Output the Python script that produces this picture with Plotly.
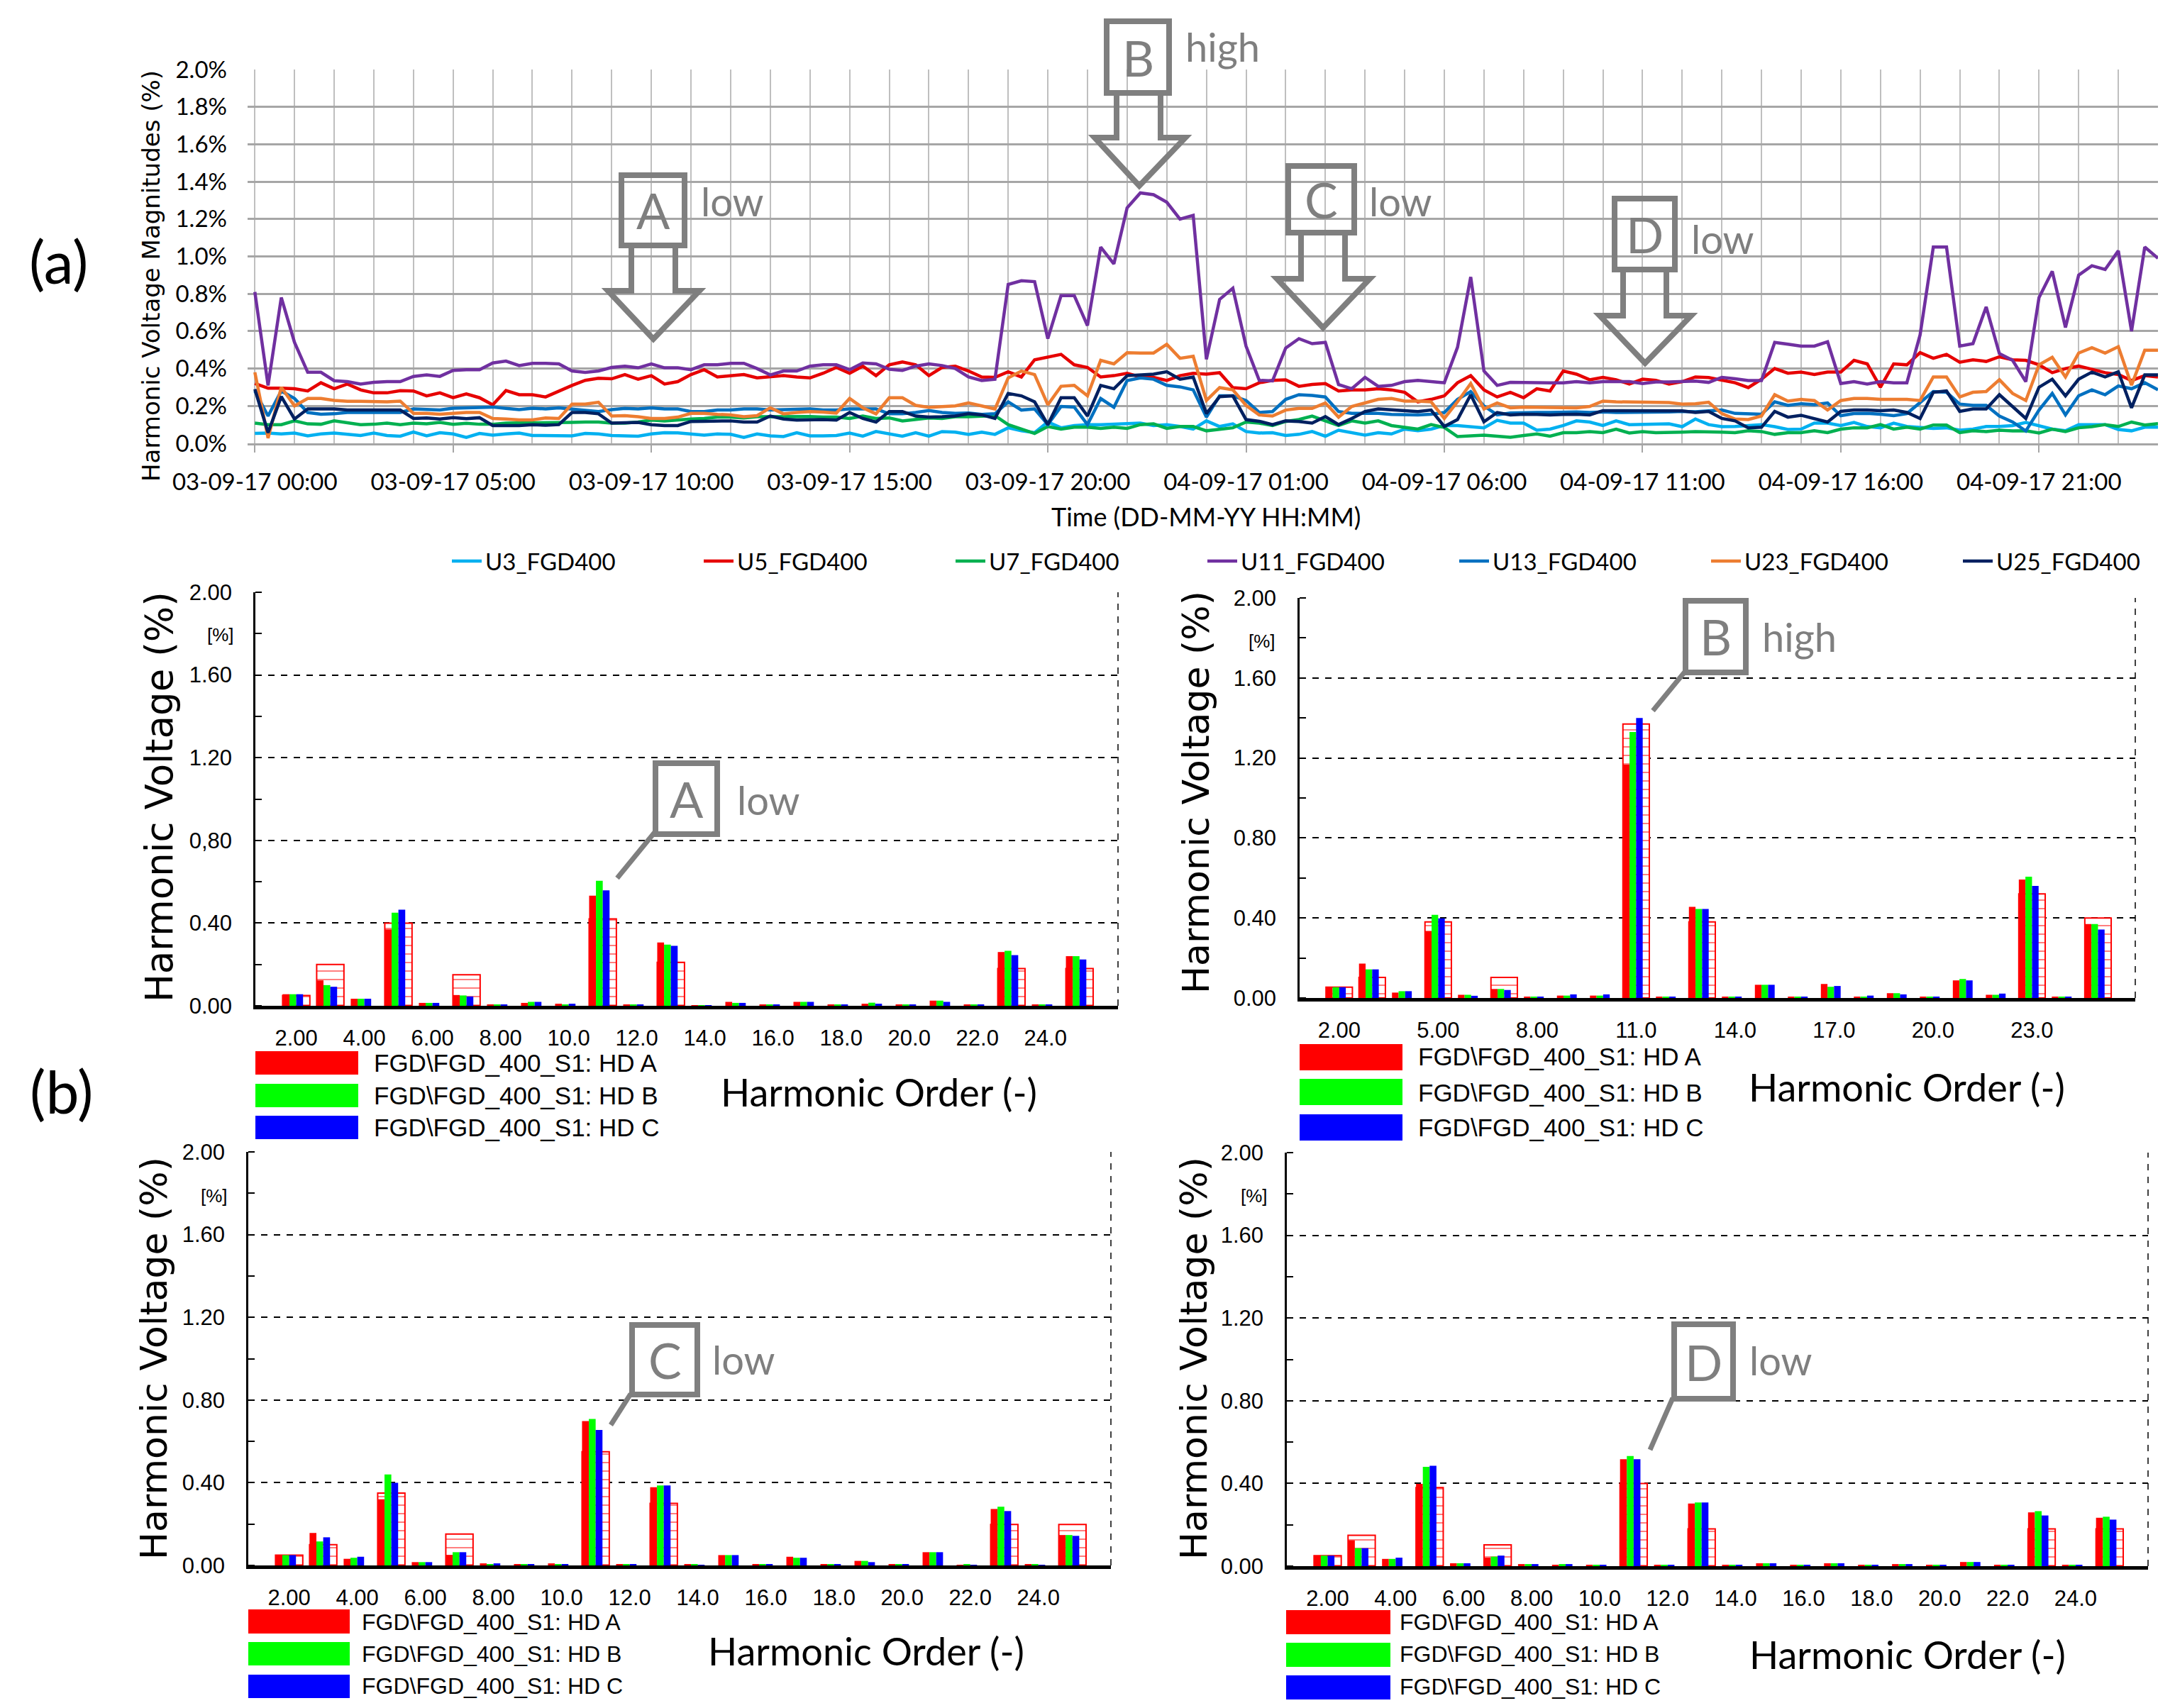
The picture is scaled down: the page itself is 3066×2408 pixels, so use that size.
import pandas as pd
import plotly.graph_objects as go

W, H = 3066, 2408

# top chart, one value every 20 minutes over 48 h
u3 = [.053,.055,.05,.055,.04,.05,.055,.048,.042,.055,.042,.038,.06,.04,.057,.05,.032,.053,.044,.05,.055,.042,.042,.042,.04,.053,.05,.042,.04,.038,.05,.057,.056,.048,.044,.05,
      .048,.032,.05,.04,.036,.057,.04,.04,.042,.055,.038,.063,.05,.038,.057,.038,.063,.06,.048,.06,.048,.083,.067,.057,.114,.083,.095,.1,.1,.104,.108,.108,.095,.1,.09,.076,
      .12,.09,.104,.063,.055,.057,.042,.048,.063,.038,.07,.057,.044,.057,.05,.076,.067,.076,.095,.095,.089,.083,.123,.108,.108,.07,.076,.095,.12,.114,.095,.12,.1,.1,.1,.104,
      .089,.13,.1,.089,.09,.095,.1,.089,.074,.076,.108,.108,.095,.112,.09,.083,.108,.09,.085,.08,.083,.07,.076,.09,.09,.095,.112,.095,.076,.067,.1,.1,.1,.074,.067,.086,.086]
u5 = [.32,.295,.295,.292,.28,.324,.292,.317,.286,.27,.27,.282,.28,.254,.27,.244,.264,.244,.206,.282,.26,.26,.248,.28,.31,.337,.348,.345,.368,.343,.362,.317,.33,.368,.394,.355,
      .362,.368,.35,.355,.362,.355,.35,.375,.406,.375,.413,.362,.42,.435,.42,.362,.406,.413,.387,.355,.353,.383,.355,.447,.463,.476,.42,.406,.355,.362,.375,.355,.353,.336,.362,.375,
      .37,.378,.298,.292,.324,.337,.34,.305,.315,.32,.28,.286,.286,.292,.286,.273,.222,.235,.254,.324,.362,.286,.248,.273,.244,.292,.28,.387,.37,.34,.353,.34,.317,.343,.337,.317,
      .33,.355,.352,.336,.324,.298,.343,.4,.375,.381,.368,.381,.381,.444,.425,.3,.425,.42,.485,.455,.476,.434,.447,.438,.463,.447,.444,.42,.378,.4,.413,.396,.378,.368,.336,.362,.355]
u7 = [.108,.1,.1,.12,.104,.102,.12,.108,.1,.102,.108,.1,.108,.104,.112,.102,.107,.102,.102,.108,.108,.11,.11,.108,.112,.114,.114,.108,.108,.114,.124,.12,.127,.13,.133,.14,
      .14,.136,.142,.143,.143,.143,.143,.14,.14,.133,.146,.133,.136,.12,.127,.136,.133,.142,.142,.146,.148,.1,.076,.053,.09,.076,.086,.086,.08,.086,.08,.1,.104,.08,.09,.09,
      .067,.076,.083,.114,.108,.095,.117,.127,.146,.12,.095,.12,.108,.12,.095,.085,.076,.1,.085,.036,.038,.044,.038,.032,.042,.05,.038,.057,.057,.063,.057,.076,.055,.063,.057,.057,
      .06,.063,.063,.06,.057,.067,.063,.048,.057,.057,.067,.057,.076,.083,.083,.1,.076,.086,.076,.098,.098,.057,.067,.063,.07,.066,.067,.055,.076,.063,.083,.089,.1,.09,.114,.098,.105]
u11 = [.81,.31,.78,.54,.38,.38,.335,.33,.317,.326,.33,.33,.358,.366,.358,.39,.394,.394,.43,.44,.416,.428,.428,.425,.387,.38,.387,.406,.413,.404,.425,.404,.404,.394,.42,.42,
       .428,.428,.4,.366,.387,.387,.413,.42,.42,.394,.43,.425,.396,.39,.413,.425,.416,.4,.355,.336,.343,.85,.87,.865,.56,.79,.79,.63,1.05,.96,1.26,1.34,1.33,1.29,1.2,1.22,
       .45,.77,.83,.52,.337,.334,.51,.56,.533,.54,.314,.292,.353,.305,.31,.33,.337,.33,.324,.514,.89,.387,.31,.326,.324,.324,.324,.324,.33,.324,.33,.33,.33,.32,.328,.328,
       .33,.333,.326,.353,.345,.336,.336,.54,.53,.52,.52,.543,.32,.33,.317,.33,.324,.324,.58,1.05,1.05,.52,.533,.73,.48,.444,.33,.78,.92,.62,.9,.95,.93,1.03,.6,1.05,.99]
u13 = [.28,.146,.28,.24,.165,.156,.158,.165,.165,.165,.165,.165,.184,.182,.178,.188,.19,.19,.194,.187,.18,.188,.184,.19,.184,.178,.17,.18,.187,.184,.19,.184,.184,.17,.17,.178,
       .178,.184,.184,.178,.18,.184,.184,.178,.178,.184,.184,.184,.158,.158,.165,.175,.165,.16,.162,.155,.158,.222,.178,.184,.1,.197,.194,.1,.24,.193,.336,.35,.343,.31,.302,.286,
       .14,.254,.254,.229,.165,.17,.235,.26,.256,.248,.17,.16,.16,.16,.155,.152,.152,.156,.165,.235,.277,.2,.152,.162,.165,.165,.165,.168,.168,.165,.168,.165,.165,.168,.168,.168,
       .171,.169,.174,.178,.16,.156,.156,.222,.203,.212,.207,.216,.148,.159,.16,.156,.148,.159,.216,.277,.273,.21,.203,.203,.146,.114,.066,.178,.267,.152,.254,.286,.26,.307,.292,.324,.286]
u23 = [.38,.028,.3,.2,.24,.24,.23,.225,.225,.222,.222,.226,.16,.16,.156,.16,.165,.165,.133,.13,.125,.125,.136,.133,.21,.21,.22,.146,.148,.142,.133,.133,.14,.16,.16,.155,
       .152,.142,.148,.19,.158,.165,.17,.167,.162,.24,.19,.158,.244,.244,.203,.193,.197,.2,.216,.2,.184,.35,.387,.368,.206,.305,.31,.254,.444,.425,.485,.483,.483,.53,.455,.466,
       .229,.298,.286,.203,.152,.146,.178,.187,.187,.216,.14,.197,.216,.235,.24,.226,.226,.222,.133,.222,.32,.184,.216,.19,.194,.193,.193,.19,.19,.197,.226,.222,.222,.218,.218,.218,
       .21,.212,.22,.159,.13,.127,.146,.26,.226,.235,.229,.178,.229,.24,.24,.235,.235,.235,.229,.355,.355,.248,.273,.277,.34,.267,.229,.42,.46,.355,.483,.512,.483,.517,.311,.498,.498]
u25 = [.29,.057,.25,.13,.184,.184,.184,.178,.178,.178,.178,.178,.133,.136,.13,.138,.132,.137,.095,.095,.095,.1,.097,.1,.165,.165,.158,.108,.108,.112,.1,.095,.095,.117,.118,.12,
       .12,.114,.114,.146,.13,.124,.127,.127,.124,.165,.133,.114,.17,.17,.146,.14,.142,.146,.158,.152,.133,.267,.254,.222,.1,.244,.244,.146,.31,.292,.362,.368,.37,.383,.343,.355,
       .159,.25,.254,.127,.118,.1,.12,.117,.108,.143,.1,.133,.17,.184,.178,.174,.17,.178,.09,.127,.26,.115,.165,.152,.156,.155,.152,.155,.156,.152,.175,.175,.175,.175,.175,.175,
       .174,.165,.171,.133,.12,.083,.086,.171,.14,.15,.133,.114,.171,.178,.178,.175,.178,.165,.133,.273,.28,.171,.184,.184,.26,.197,.133,.3,.343,.254,.343,.381,.355,.383,.19,.366,.366]

time_start = "2017-09-03 00:00"
time_step = "20min"
series_names = ["U3_FGD400", "U5_FGD400", "U7_FGD400", "U11_FGD400", "U13_FGD400", "U23_FGD400", "U25_FGD400"]
series_colors = ["#00B0F0", "#E60000", "#00B050", "#7030A0", "#0070C0", "#ED7D31", "#002060"]

# bar panels, harmonic orders 2 to 25
orders = list(range(2, 26))
a_hd_a = [.056,.123,.034,.37,.014,.052,.004,.014,.01,.533,.004,.306,.003,.019,.005,.019,.004,.01,.005,.025,.005,.26,.004,.24]
a_hd_b = [.056,.10,.034,.45,.014,.05,.004,.019,.005,.605,.004,.296,.003,.014,.005,.019,.004,.015,.005,.025,.005,.266,.004,.24]
a_hd_c = [.056,.092,.034,.465,.014,.045,.004,.019,.01,.558,.004,.29,.003,.014,.005,.019,.004,.01,.005,.019,.005,.245,.004,.224]
a_limit = [.05,.2,None,.4,None,.15,None,None,None,.42,None,.21,None,None,None,None,None,None,None,None,None,.18,None,.18]

b_hd_a = [.054,.172,.027,.335,.016,.045,.005,.012,.012,1.167,.004,.456,.004,.066,.004,.07,.004,.024,.005,.088,.016,.592,.004,.37]
b_hd_b = [.054,.143,.034,.416,.016,.045,.004,.012,.012,1.33,.004,.445,.004,.066,.004,.056,.004,.024,.005,.095,.016,.606,.004,.37]
b_hd_c = [.054,.143,.034,.398,.011,.04,.005,.018,.018,1.40,.004,.445,.004,.066,.004,.06,.012,.018,.005,.088,.022,.56,.004,.342]
b_limit = [.054,.103,None,.38,None,.103,None,None,None,1.37,None,.38,None,None,None,None,None,None,None,None,None,.52,None,.40]

c_hd_a = [.05,.157,.032,.32,.016,.051,.01,.005,.01,.698,.005,.378,.004,.05,.005,.042,.005,.022,.005,.064,.002,.273,.004,.147]
c_hd_b = [.05,.116,.037,.44,.016,.064,.005,.005,.005,.708,.005,.387,.004,.05,.005,.037,.005,.022,.005,.064,.004,.284,.004,.147]
c_hd_c = [.05,.136,.042,.40,.016,.064,.01,.005,.005,.655,.005,.387,.002,.05,.005,.037,.005,.016,.005,.064,.002,.263,.002,.143]
c_limit = [.05,.10,None,.35,None,.152,None,None,None,.55,None,.30,None,None,None,None,None,None,None,None,None,.198,None,.198]

d_hd_a = [.051,.125,.035,.398,.014,.041,.01,.004,.005,.517,.005,.303,.005,.014,.004,.014,.004,.01,.004,.02,.004,.26,.005,.234]
d_hd_b = [.051,.087,.035,.48,.014,.046,.01,.01,.004,.533,.005,.308,.005,.014,.004,.014,.004,.01,.004,.02,.004,.266,.005,.239]
d_hd_c = [.051,.087,.041,.485,.014,.051,.01,.01,.005,.517,.005,.308,.005,.014,.004,.014,.004,.01,.004,.02,.004,.245,.005,.225]
d_limit = [.051,.149,None,.38,None,.103,None,None,None,.40,None,.18,None,None,None,None,None,None,None,None,None,.18,None,.18]

y_ticks = [0, .4, .8, 1.2, 1.6, 2.0]
y_labels = ["0.00", "0.40", "0.80", "1.20", "1.60", "2.00"]
y_labels_a = ["0.00", "0.40", "0,80", "1.20", "1.60", "2.00"]
x_ticks_even = [2, 4, 6, 8, 10, 12, 14, 16, 18, 20, 22, 24]
x_labels_even = ["2.00", "4.00", "6.00", "8.00", "10.0", "12.0", "14.0", "16.0", "18.0", "20.0", "22.0", "24.0"]
x_ticks_three = [2, 5, 8, 11, 14, 17, 20, 23]
x_labels_three = ["2.00", "5.00", "8.00", "11.0", "14.0", "17.0", "20.0", "23.0"]
hd_names = ["FGD\\FGD_400_S1: HD A", "FGD\\FGD_400_S1: HD B", "FGD\\FGD_400_S1: HD C"]
hd_colors = ["#FF0000", "#00FF00", "#0000FF"]

assert all(len(s) == 145 for s in [u3, u5, u7, u11, u13, u23, u25])

GRAY = "#7F7F7F"
SANS = "Liberation Sans"
TITLE = "Lato"


def px(x):
    return x / W


def py(y):
    return 1 - y / H


fig = go.Figure()
shapes = []
notes = []


def note(x, y, text, size, color="black", family=TITLE, angle=0, anchor="center"):
    notes.append(dict(x=px(x), y=py(y), xref="paper", yref="paper", text=text, showarrow=False,
                      xanchor=anchor, yanchor="middle", textangle=angle,
                      font=dict(size=size, color=color, family=family)))


def outline(points, close=False, width=8):
    path = "M " + " L ".join(f"{px(x):.5f},{py(y):.5f}" for x, y in points) + (" Z" if close else "")
    shapes.append(dict(type="path", path=path, xref="paper", yref="paper",
                       line=dict(color=GRAY, width=width), layer="above"))


def box(x0, x1, y0, y1, letter, word, word_x, word_y):
    outline([(x0, y0), (x1, y0), (x1, y1), (x0, y1)], close=True)
    note((x0 + x1) / 2, (y0 + y1) / 2, letter, 70, GRAY)
    note(word_x, word_y, word, 56, GRAY, anchor="left")


def down_arrow(left, right, wing_l, wing_r, top, neck, tip_x, tip_y):
    outline([(left, top), (left, neck), (wing_l, neck), (tip_x, tip_y), (wing_r, neck), (right, neck), (right, top)])


# top time series
times = pd.date_range(time_start, periods=len(u3), freq=time_step)
for values, name, color in zip([u3, u5, u7, u11, u13, u23, u25], series_names, series_colors):
    fig.add_trace(go.Scatter(x=times, y=values, name=name, mode="lines", xaxis="x", yaxis="y",
                             line=dict(color=color, width=4.5)))

layout_axes = dict(
    xaxis=dict(domain=[px(341), px(3034)], anchor="y",
               range=["2017-09-02 23:49", "2017-09-05 00:00"], type="date",
               tick0="2017-09-03 00:00", dtick=5 * 3600000, tickformat="%d-%m-%y %H:%M", tickangle=0,
               tickfont=dict(size=33, family=TITLE), ticks="outside", ticklen=10, tickwidth=2,
               tickcolor="#A6A6A6", ticklabelstandoff=14, showgrid=True, gridcolor="#BFBFBF", gridwidth=2,
               minor=dict(dtick=3600000, tick0="2017-09-03 00:00", showgrid=True,
                          gridcolor="#BFBFBF", gridwidth=2, ticks=""),
               showline=True, linecolor="#A6A6A6", linewidth=2.5, zeroline=False),
    yaxis=dict(domain=[py(617), py(90)], anchor="x", range=[0, 2], dtick=0.2, tickformat=".1f", ticksuffix="%",
               tickfont=dict(size=33, family=TITLE), ticks="", ticklabelstandoff=28,
               showgrid=True, gridcolor="#A6A6A6", gridwidth=2.5, zeroline=False,
               showline=False),
)

note(1692, 720, "Time (DD-MM-YY HH:MM)", 36)
note(205, 381, "Harmonic Voltage Magnitudes (%)", 34, family="DejaVu Sans", angle=-90)
note(75, 360, "(a)", 84)
note(78, 1529, "(b)", 84)

box(868, 957, 239, 338, "A", "low", 978, 275)
down_arrow(882, 944, 849, 978, 338, 402, 913, 470)
box(1552, 1640, 22, 123, "B", "high", 1661, 58)
down_arrow(1566, 1628, 1535, 1663, 123, 186, 1598, 254)
box(1808, 1901, 226, 320, "C", "low", 1920, 275)
down_arrow(1826, 1888, 1792, 1923, 320, 385, 1857, 454)
box(2268, 2353, 272, 372, "D", "low", 2374, 328)
down_arrow(2280, 2341, 2247, 2376, 372, 437, 2311, 504)

# bar panels
panels = [
    dict(hd=[a_hd_a, a_hd_b, a_hd_c], limit=a_limit, left=352, right=1568, top=827, zero=1410,
         xt=x_ticks_even, xl=x_labels_even, yl=y_labels_a,
         swatch=(352, 497, [(1474, 1507), (1520, 1553), (1565, 1598)]), text_x=517, text_y=[1490, 1536, 1581], text_size=35,
         order=(1231, 1531), ytitle=(216, 1116, 53), pct=(303, 887),
         box=(916, 1003, 1068, 1168, "A", "low", 1029, 1119), lead=[(916, 1164), (862, 1230)]),
    dict(hd=[b_hd_a, b_hd_b, b_hd_c], limit=b_limit, left=1824, right=3002, top=835, zero=1399,
         xt=x_ticks_three, xl=x_labels_three, yl=y_labels,
         swatch=(1824, 1969, [(1464, 1501), (1513, 1550), (1563, 1600)]), text_x=1989, text_y=[1482, 1532, 1581], text_size=35,
         order=(2680, 1524), ytitle=(1678, 1109, 52), pct=(1771, 896),
         box=(2368, 2453, 839, 940, "B", "high", 2474, 889), lead=[(2368, 938), (2322, 994)]),
    dict(hd=[c_hd_a, c_hd_b, c_hd_c], limit=c_limit, left=342, right=1558, top=1616, zero=2199,
         xt=x_ticks_even, xl=x_labels_even, yl=y_labels,
         swatch=(342, 485, [(2261, 2295), (2307, 2340), (2353, 2386)]), text_x=500, text_y=[2279, 2324, 2369], text_size=32,
         order=(1213, 2319), ytitle=(209, 1907, 52), pct=(294, 1678),
         box=(883, 975, 1860, 1958, "C", "low", 994, 1908), lead=[(881, 1957), (853, 2001)]),
    dict(hd=[d_hd_a, d_hd_b, d_hd_c], limit=d_limit, left=1806, right=3020, top=1617, zero=2200,
         xt=x_ticks_even, xl=x_labels_even, yl=y_labels,
         swatch=(1805, 1952, [(2262, 2296), (2308, 2342), (2354, 2388)]), text_x=1963, text_y=[2279, 2324, 2370], text_size=32,
         order=(2681, 2324), ytitle=(1675, 1907, 52), pct=(1760, 1678),
         box=(2352, 2435, 1859, 1964, "D", "low", 2456, 1910), lead=[(2350, 1963), (2318, 2036)]),
]

for i, p in enumerate(panels, start=2):
    xa, ya = f"x{i}", f"y{i}"
    fig.add_trace(go.Bar(x=orders, y=p["limit"], xaxis=xa, yaxis=ya, offset=-0.4, width=0.8, showlegend=False,
                         name="Limit",
                         marker=dict(color="white", line=dict(color="#FF0000", width=2),
                                     pattern=dict(shape="-", size=12, solidity=0.17,
                                                  fgcolor="#FF0000", bgcolor="white"))))
    for j, (values, name, color) in enumerate(zip(p["hd"], hd_names, hd_colors)):
        fig.add_trace(go.Bar(x=orders, y=values, xaxis=xa, yaxis=ya, offset=-0.4 + 0.2 * j, width=0.2,
                             showlegend=False, name=name, marker=dict(color=color, line=dict(width=0))))
    layout_axes[f"xaxis{i}"] = dict(domain=[px(p["left"]), px(p["right"])], anchor=ya, range=[0.8, 26.13],
                                    tickvals=p["xt"], ticktext=p["xl"], tickfont=dict(size=31, family=SANS),
                                    ticks="", ticklabelstandoff=14, showgrid=False, zeroline=False, tickangle=0,
                                    showline=True, linecolor="black", linewidth=5)
    layout_axes[f"yaxis{i}"] = dict(domain=[py(p["zero"]), py(p["top"])], anchor=xa, range=[0, 2],
                                    tickvals=y_ticks, ticktext=p["yl"], tickfont=dict(size=31, family=SANS),
                                    ticks="", ticklabelstandoff=24, showgrid=True, gridcolor="black", gridwidth=1.5,
                                    griddash="dash", zeroline=False, showline=True, linecolor="black", linewidth=2.5,
                                    minor=dict(dtick=0.2, ticks="inside", ticklen=9, tickwidth=2,
                                               tickcolor="black", showgrid=False))
    shapes.append(dict(type="line", xref="paper", yref="paper", x0=px(p["right"]), x1=px(p["right"]),
                       y0=py(p["zero"]), y1=py(p["top"]), line=dict(color="black", width=1.5, dash="dash")))
    x0, x1, rows = p["swatch"]
    for (y0, y1), color, name, ty in zip(rows, hd_colors, hd_names, p["text_y"]):
        shapes.append(dict(type="rect", xref="paper", yref="paper", x0=px(x0), x1=px(x1), y0=py(y0), y1=py(y1),
                           fillcolor=color, line=dict(width=0)))
        note(p["text_x"], ty, name, p["text_size"], family=SANS, anchor="left")
    note(p["order"][0], p["order"][1], "Harmonic Order (-)", 54)
    tx, ty, ts = p["ytitle"]
    note(tx, ty, "Harmonic Voltage (%)", ts, family="DejaVu Sans", angle=-90)
    note(p["pct"][0], p["pct"][1], "[%]", 26, family=SANS)
    box(*p["box"])
    outline(p["lead"], width=7)

fig.update_layout(
    width=W, height=H, autosize=False, margin=dict(l=0, r=0, t=0, b=0, autoexpand=False),
    paper_bgcolor="white", plot_bgcolor="white", barmode="overlay",
    font=dict(family=SANS, color="black"),
    legend=dict(orientation="h", x=px(624), y=py(783), xanchor="left", yanchor="middle",
                itemwidth=42, entrywidth=298, entrywidthmode="pixels", font=dict(size=33, family=TITLE),
                bgcolor="rgba(0,0,0,0)"),
    shapes=shapes, annotations=notes, **layout_axes,
)

fig.write_html("out.html")
